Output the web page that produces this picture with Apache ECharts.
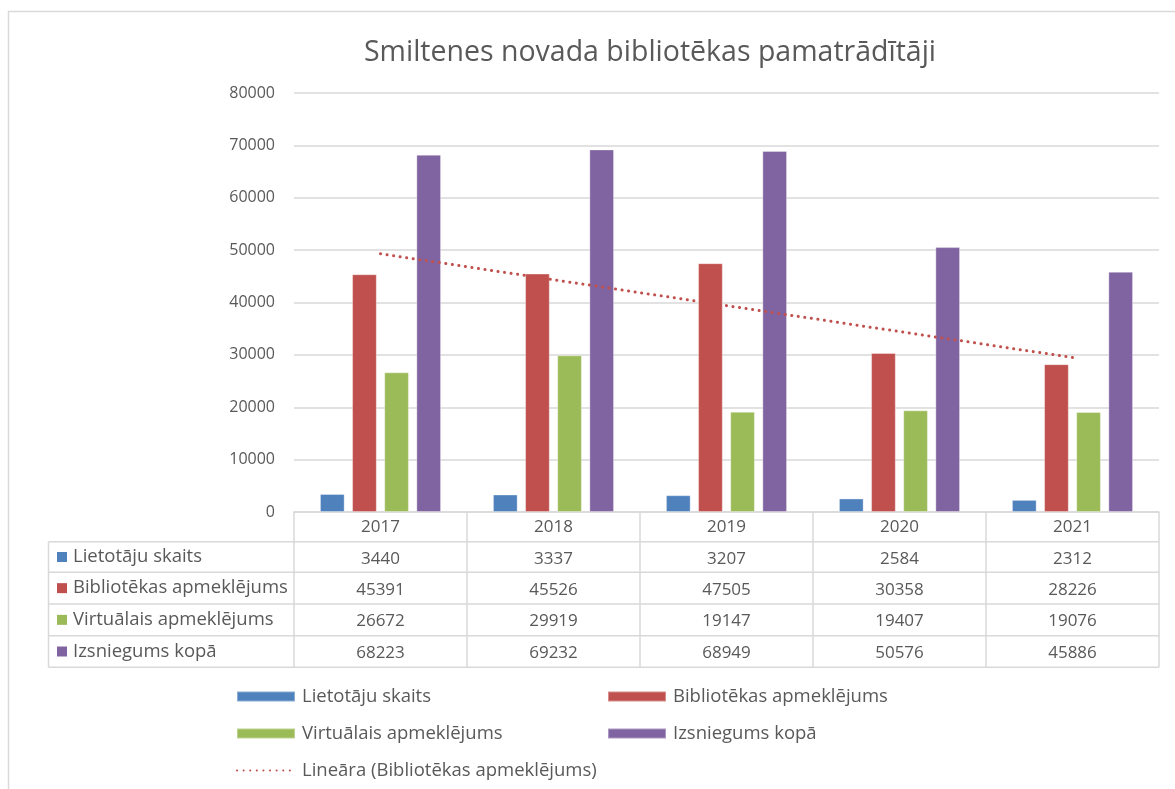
<!DOCTYPE html>
<html>
<head>
<meta charset="utf-8">
<script src="https://cdn.jsdelivr.net/npm/echarts@6/dist/echarts.min.js"></script>
<style>
  html, body { margin: 0; padding: 0; background: #fff; }
  #chart { width: 1175px; height: 789px; }
</style>
</head>
<body>
<div id="chart"></div>
<script>
const years = ['2017', '2018', '2019', '2020', '2021'];
const lietotaji = [3440, 3337, 3207, 2584, 2312];
const apmeklejums = [45391, 45526, 47505, 30358, 28226];
const virtualais = [26672, 29919, 19147, 19407, 19076];
const izsniegums = [68223, 69232, 68949, 50576, 45886];
const yTicks = [0, 10000, 20000, 30000, 40000, 50000, 60000, 70000, 80000];

const seriesNames = ['Lietotāju skaits', 'Bibliotēkas apmeklējums', 'Virtuālais apmeklējums', 'Izsniegums kopā'];
const seriesData = [lietotaji, apmeklejums, virtualais, izsniegums];
const colors = ['#4F81BD', '#C0504D', '#9BBB59', '#8064A2'];
const trendName = 'Lineāra (Bibliotēkas apmeklējums)';

const FONT = 'Open Sans';
const TXT = '#595959';
const LINE = '#d9d9d9';

// Excel-style linear trendline (least squares over x = 1..n)
const linearFit = (vals) => {
  const n = vals.length;
  const xs = vals.map((_, i) => i + 1);
  const mx = xs.reduce((a, b) => a + b, 0) / n;
  const my = vals.reduce((a, b) => a + b, 0) / n;
  let num = 0, den = 0;
  xs.forEach((x, i) => { num += (x - mx) * (vals[i] - my); den += (x - mx) * (x - mx); });
  const k = num / den;
  return xs.map(x => my + k * (x - mx));
};
const trend = linearFit(apmeklejums);

// layout
const gridL = 294, gridR = 16, gridT = 93, gridB = 277;
const tableTop = 789 - gridB;            // 512
const rowLines = [541.7, 572.3, 604, 635.7, 667.3];
const tableLeft = 48.5;
const plotRight = 1175 - gridR;

const chart = echarts.init(document.getElementById('chart'));

const graphics = [
  { type: 'rect', shape: { x: 8.5, y: 11.5, width: 1300, height: 900 },
    style: { fill: 'none', stroke: LINE, lineWidth: 1.5 }, z: -1, silent: true }
];
rowLines.forEach(y => {
  graphics.push({ type: 'line', shape: { x1: tableLeft, y1: y, x2: plotRight, y2: y },
    style: { stroke: LINE, lineWidth: 1.5 }, silent: true });
});
graphics.push({ type: 'line', shape: { x1: tableLeft, y1: rowLines[0], x2: tableLeft, y2: rowLines[4] },
  style: { stroke: LINE, lineWidth: 1.5 }, silent: true });
seriesNames.forEach((name, i) => {
  const cy = (rowLines[i] + rowLines[i + 1]) / 2;
  graphics.push({ type: 'rect', shape: { x: 57, y: cy - 5, width: 10, height: 10 },
    style: { fill: colors[i] }, silent: true });
  graphics.push({ type: 'text', x: 73, y: cy,
    style: { text: name, fill: TXT, font: '18.5px "' + FONT + '"', verticalAlign: 'middle' }, silent: true });
});

const legendPos = [[236, 687], [607, 687], [236, 724], [607, 724], [236, 761]];
const legendNames = seriesNames.concat([trendName]);

const option = {
  animation: false,
  title: {
    text: 'Smiltenes novada bibliotēkas pamatrādītāji',
    left: 645,
    top: 33,
    textAlign: 'center',
    textStyle: { fontFamily: FONT, fontSize: 28.5, fontWeight: 'normal', color: TXT }
  },
  legend: legendNames.map((name, i) => {
    const lg = {
      data: [i < 4 ? { name: name, icon: 'rect' } : name],
      left: legendPos[i][0],
      top: legendPos[i][1],
      padding: 0,
      itemWidth: 58,
      itemHeight: 10,
      selectedMode: false,
      textStyle: { fontFamily: FONT, fontSize: 18.5, color: TXT, padding: [0, 0, 0, 2] }
    };
    if (i === 4) lg.itemStyle = { opacity: 0 };
    return lg;
  }),
  grid: { left: gridL, right: gridR, top: gridT, bottom: gridB },
  xAxis: {
    type: 'category',
    data: years,
    axisLine: { lineStyle: { color: LINE, width: 1.5 } },
    axisTick: { show: true, length: rowLines[4] - tableTop, lineStyle: { color: LINE, width: 1.5 } },
    axisLabel: {
      margin: 0,
      fontFamily: FONT,
      fontSize: 17,
      lineHeight: 31.3,
      color: TXT,
      formatter: (val, idx) => [val].concat(seriesData.map(d => d[idx])).join('\n')
    }
  },
  yAxis: {
    type: 'value',
    min: yTicks[0],
    max: yTicks[yTicks.length - 1],
    interval: yTicks[1] - yTicks[0],
    axisLine: { show: false },
    axisTick: { show: false },
    axisLabel: { fontFamily: FONT, fontSize: 16, color: TXT, margin: 19, formatter: v => String(v) },
    splitLine: { lineStyle: { color: LINE, width: 1.5 } }
  },
  series: seriesNames.map((name, i) => ({
    name: name,
    type: 'bar',
    data: seriesData[i],
    barGap: '30%',
    barCategoryGap: '30%',
    itemStyle: { color: colors[i], borderColor: 'rgba(255,255,255,0.35)', borderWidth: 1 }
  })).concat([{
    name: trendName,
    type: 'line',
    data: trend,
    symbol: 'none',
    silent: true,
    z: 5,
    color: '#C0504D',
    lineStyle: { color: '#C0504D', width: 3, type: [0.1, 6.5], cap: 'round' }
  }]),
  graphic: graphics
};

chart.setOption(option);
window.addEventListener('resize', () => chart.resize());
</script>
</body>
</html>
